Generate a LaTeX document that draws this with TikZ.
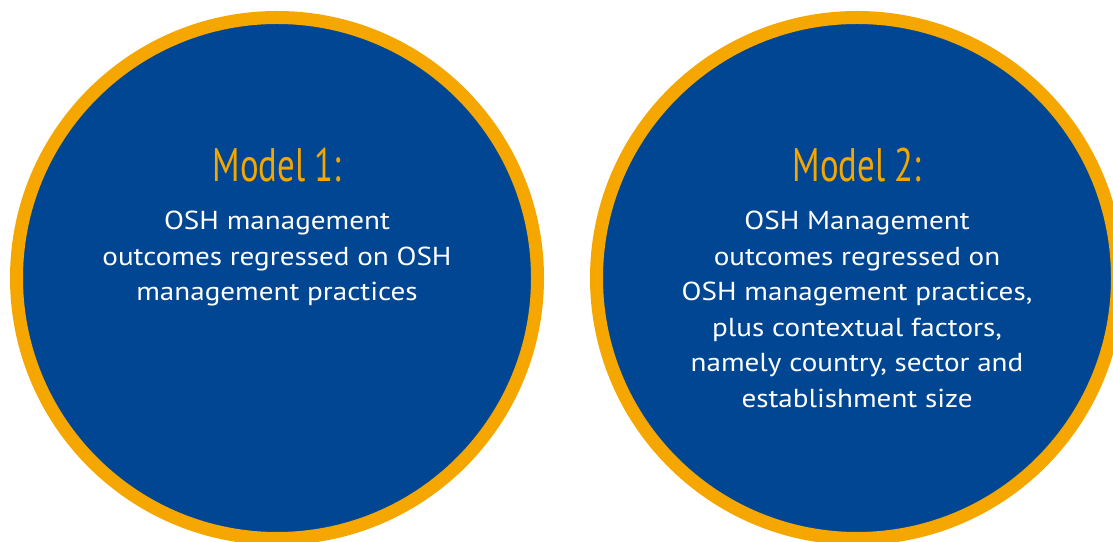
\documentclass[tikz,border=0pt]{standalone}
\usepackage{fontspec}
\setmainfont[FakeStretch=1.12]{PT Sans}
\newfontfamily\headfont[FakeStretch=0.74]{PT Sans}
\usetikzlibrary{positioning}
\definecolor{oshblue}{HTML}{004692}
\definecolor{oshorange}{HTML}{F5A700}
\tikzset{
  modelcircle/.style = {draw=oshorange, fill=oshblue, line width=13pt,
                        circle, inner sep=0pt, minimum size=521pt},
  heading/.style     = {text=oshorange, inner sep=0pt,
                        font=\headfont\fontsize{47}{47}\selectfont},
  body/.style        = {text=white, align=center, inner sep=0pt,
                        font=\fontsize{26}{35.5}\selectfont},
}

\begin{document}
\begin{tikzpicture}[x=1pt,y=1pt]
\useasboundingbox (0,0) rectangle (1113,541);
\clip (0,0) rectangle (1113,541);
% the two model circles
\node[modelcircle] (m1) at (277,263) {};
\node[modelcircle] (m2) at (857,263) {};
% model 1
\node[heading, anchor=base] (h1) at ([yshift=96pt]m1.center) {Model 1:};
\node[body, below=29pt of h1.base] (b1) {OSH management\\
  outcomes regressed on OSH\\ management practices};
% model 2
\node[heading, anchor=base] (h2) at ([yshift=96pt]m2.center) {Model 2:};
\node[body, below=29pt of h2.base] (b2) {OSH Management\\
  outcomes regressed on\\ OSH management practices,\\
  plus contextual factors,\\ namely country, sector and\\
  establishment size};
\end{tikzpicture}
\end{document}
